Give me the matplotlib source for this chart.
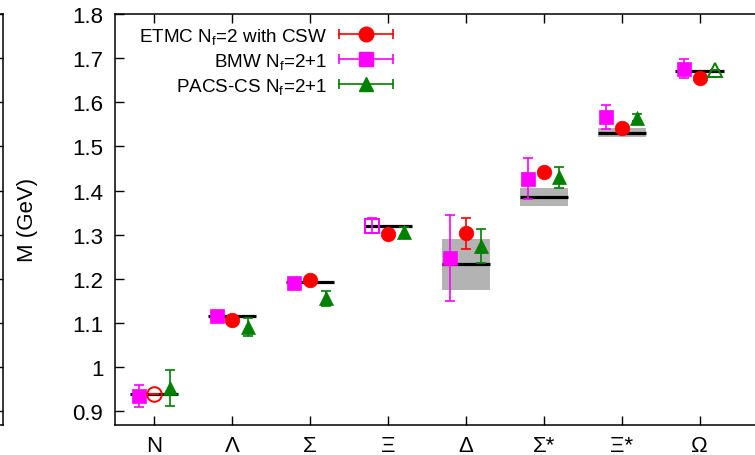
import numpy as np
import matplotlib
matplotlib.use('Agg')
import matplotlib.pyplot as plt
from matplotlib.legend_handler import HandlerBase
from matplotlib.lines import Line2D
from matplotlib.ticker import FuncFormatter

plt.rcParams['font.family'] = ['Liberation Sans', 'DejaVu Sans']
plt.rcParams['mathtext.default'] = 'regular'

# baryon octet and decuplet states
baryons = ['N', 'Λ', 'Σ', 'Ξ', 'Δ', 'Σ*', 'Ξ*', 'Ω']

# experimental masses and half widths of the resonances (GeV)
exp_mass = [0.939, 1.116, 1.193, 1.321, 1.233, 1.386, 1.531, 1.672]
exp_halfwidth = [0.0, 0.0, 0.0, 0.0, 0.0585, 0.020, 0.010, 0.0]

# lattice results (GeV); open symbols mark the inputs used to fix parameters
etmc_mass = [0.939, 1.108, 1.197, 1.302, 1.303, 1.442, 1.542, 1.655]
etmc_err = [0.0, 0.006, 0.006, 0.006, 0.035, 0.006, 0.006, 0.006]
etmc_open = [True, False, False, False, False, False, False, False]

bmw_mass = [0.936, 1.117, 1.191, 1.321, 1.248, 1.427, 1.566, 1.676]
bmw_err = [0.025, 0.006, 0.006, 0.016, 0.097, 0.046, 0.027, 0.021]
bmw_open = [False, False, False, True, False, False, False, False]

pacs_mass = [0.953, 1.091, 1.156, 1.307, 1.275, 1.430, 1.565, 1.674]
pacs_err = [0.041, 0.020, 0.017, 0.010, 0.038, 0.024, 0.008, 0.0]
pacs_open = [False, False, False, False, False, False, False, True]

x = np.arange(1, len(baryons) + 1)

fig = plt.figure(figsize=(7.55, 4.56), dpi=100)
W, H = 755.0, 456.0
ax_left, ax_right, ax_top, ax_bottom = 115.3, 777.5, 15.0, 425.7
ax = fig.add_axes([ax_left / W, 1 - ax_bottom / H,
                   (ax_right - ax_left) / W, (ax_bottom - ax_top) / H])

# right edge of the neighbouring panel
ax0 = fig.add_axes([-0.5, 1 - ax_bottom / H, 0.5 + 3 / W, (ax_bottom - ax_top) / H])
ax0.set_ylim(0.87, 1.8)
ax0.set_yticks(np.arange(0.9, 1.81, 0.1))
ax0.set_xticks([])
ax0.tick_params(axis='y', direction='in', length=6.5, width=1,
                left=False, right=True, labelleft=False, labelright=False)
for s in ax0.spines.values():
    s.set_linewidth(1.1)

# experimental values: grey band for the width, black line for the mass
hw = 0.31
ax.bar(x, [2 * h for h in exp_halfwidth],
       bottom=[m - h for m, h in zip(exp_mass, exp_halfwidth)],
       width=2 * hw, color='#b3b3b3', zorder=1)
ax.hlines(exp_mass, x - hw, x + hw, color='black', lw=2.3, zorder=2)


def draw_set(xs, mass, err, opened, color, marker):
    ax.errorbar(xs, mass, yerr=err, fmt='none', ecolor=color,
                elinewidth=1.2, capsize=3.8, capthick=1.2, zorder=3)
    for xi, m, o in zip(xs, mass, opened):
        ax.plot(xi, m, ls='none', marker=marker, ms=10.5,
                mfc='none' if o else color, mec=color,
                mew=1.4 if o else 0.5, zorder=4)


draw_set(x - 0.2, bmw_mass, bmw_err, bmw_open, '#ff00ff', 's')
draw_set(x, etmc_mass, etmc_err, etmc_open, '#ff0000', 'o')
draw_set(x + 0.2, pacs_mass, pacs_err, pacs_open, '#008000', '^')


class HandlerCapLine(HandlerBase):
    # horizontal errorbar sample with end caps and the marker in the middle
    def create_artists(self, legend, orig_handle, xdescent, ydescent,
                       width, height, fontsize, trans):
        y = height / 2 - ydescent
        x0, x1 = -xdescent, width - xdescent
        c = orig_handle.get_color()
        line = Line2D([x0, x1], [y, y], color=c, lw=1.2)
        caps = Line2D([x0, x1], [y, y], ls='none', marker='|', ms=7,
                      mew=1.2, color=c)
        mark = Line2D([(x0 + x1) / 2], [y], ls='none',
                      marker=orig_handle.get_marker(), ms=10.5, color=c)
        for a in (line, caps, mark):
            a.set_transform(trans)
        return [line, caps, mark]


handles = [Line2D([], [], color='#ff0000', marker='o'),
           Line2D([], [], color='#ff00ff', marker='s'),
           Line2D([], [], color='#008000', marker='^')]
labels = ['ETMC N$_f$=2 with CSW', 'BMW N$_f$=2+1', 'PACS-CS N$_f$=2+1']
ax.legend(handles, labels, handler_map={Line2D: HandlerCapLine()},
          loc='upper right', bbox_to_anchor=(0.419, 0.971),
          frameon=False, markerfirst=False, fontsize=13.6,
          handlelength=2.83, handletextpad=0.63, labelspacing=0.27,
          borderpad=0, borderaxespad=0)

ax.set_xlim(0.5, 0.5 + (ax_right - ax_left) / 77.9)
ax.set_ylim(0.87, 1.8)
ax.set_xticks(x)
ax.set_xticklabels(baryons)
ax.set_yticks(np.arange(0.9, 1.81, 0.1))
ax.yaxis.set_major_formatter(FuncFormatter(lambda v, p: f'{v:g}'))
ax.tick_params(axis='both', direction='in', length=6.5, width=1,
               labelsize=16, top=True, right=True)
ax.tick_params(axis='y', pad=8.6)
ax.tick_params(axis='x', pad=7.5)
for s in ax.spines.values():
    s.set_linewidth(1.1)

fig.text(27 / W, 1 - 220 / H, 'M (GeV)', rotation=90, ha='center',
         va='center', fontsize=16)

fig.savefig('out.png', dpi=100)
